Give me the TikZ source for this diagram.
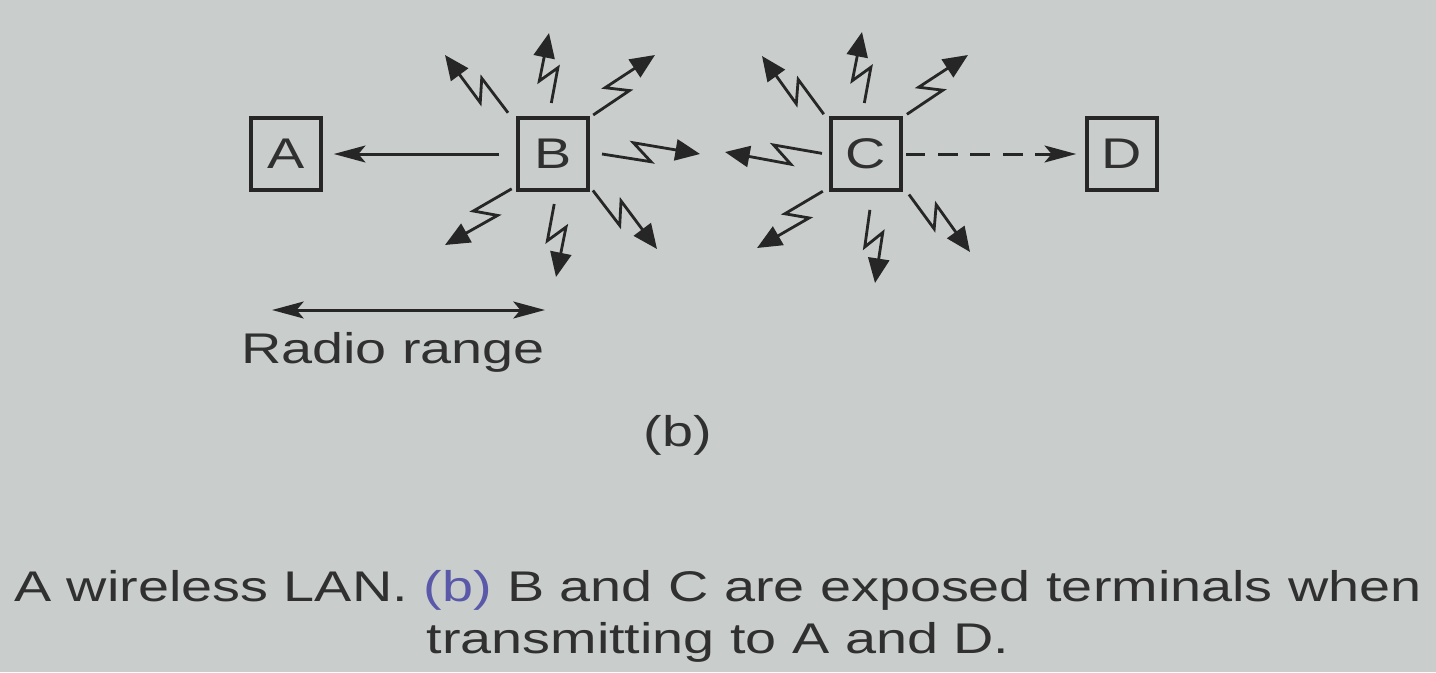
\documentclass[tikz,border=0pt]{standalone}
\usepackage{fontspec}
\setmainfont{Liberation Sans}[FakeStretch=1.3]
\usepackage{tikz}
\usetikzlibrary{arrows.meta,calc}
\definecolor{slide}{HTML}{C9CDCB}
\definecolor{ink}{HTML}{262626}
\definecolor{txt}{HTML}{303030}
\definecolor{capblue}{HTML}{5A58A8}
\tikzset{
  station/.style={draw=ink,line width=1pt,minimum width=0.70cm,minimum height=0.72cm,
                  inner sep=0pt,text=txt,font=\fontsize{12.2}{14}\selectfont},
  link/.style   ={-{Stealth[length=9pt,width=4.8pt,inset=2pt]},line width=0.85pt,draw=ink},
  dashlink/.style={link,dash pattern=on 5.6pt off 3.6pt},
  spanarrow/.style={{Stealth[length=9pt,width=4.8pt,inset=2pt]}-{Stealth[length=9pt,width=4.8pt,inset=2pt]},
                  line width=0.85pt,draw=ink},
  zap/.style    ={-{Triangle[length=7pt,width=6pt]},line width=0.8pt,draw=ink,
                  to path={-- ($(\tikztostart)!0.50!(\tikztotarget)!2.2pt!270:(\tikztotarget)$)
                           -- ($(\tikztostart)!0.32!(\tikztotarget)!3.2pt!90:(\tikztotarget)$)
                           -- (\tikztotarget)}},
  slidetext/.style={text=txt,font=\fontsize{12.2}{14.8}\selectfont,inner sep=0pt}
}

\begin{document}
\begin{tikzpicture}[x=0.01cm,y=0.01cm]
  \useasboundingbox[fill=slide] (0,0) rectangle (1436,-672);

  % stations
  \node[station] (A) at (286,-154) {A};
  \node[station] (B) at (553,-154) {B};
  \node[station] (C) at (866,-154) {C};
  \node[station] (D) at (1122,-154) {D};

  \draw[link,shorten <=0.17cm,shorten >=0.11cm] (B) -- (A);
  \draw[dashlink,shorten <=0.03cm,shorten >=0.09cm] (C) -- (D);

  % radio bursts
  \foreach \n/\x/\y in {bu/549/33,bul/445/55,bur/655/55,br/700/154,bdl/445/245,bd/556/277,bdr/657/249,
                        cu/862/32,cul/762/56,cur/968/55,cl/725/152,cdl/757/248,cd/875/283,cdr/970/252}
    \coordinate (\n) at (\x,-\y);
  \foreach \tip/\gap in {bu/0.51,bul/0.61,bur/0.56,br/0.49,bdl/0.54,bd/0.50,bdr/0.54}
    \draw[zap] ($(B)!\gap cm!(\tip)$) to (\tip);
  \foreach \tip/\gap in {cu/0.51,cul/0.58,cur/0.57,cl/0.44,cdl/0.57,cd/0.56,cdr/0.59}
    \draw[zap] ($(C)!\gap cm!(\tip)$) to (\tip);

  % range
  \coordinate (rl) at (272,-310);
  \coordinate (rr) at (545,-310);
  \draw[spanarrow] (rl) -- (rr);
  \node[slidetext] (rtext) at (393,-352) {Radio range};

  \node[slidetext] (part) at (678,-435) {(b)};
  \node[slidetext,align=center] (caption) at (718,-616)
    {A wireless LAN. {\color{capblue}(b)} B and C are exposed terminals when\\
     transmitting to A and D.};
\end{tikzpicture}
\end{document}
